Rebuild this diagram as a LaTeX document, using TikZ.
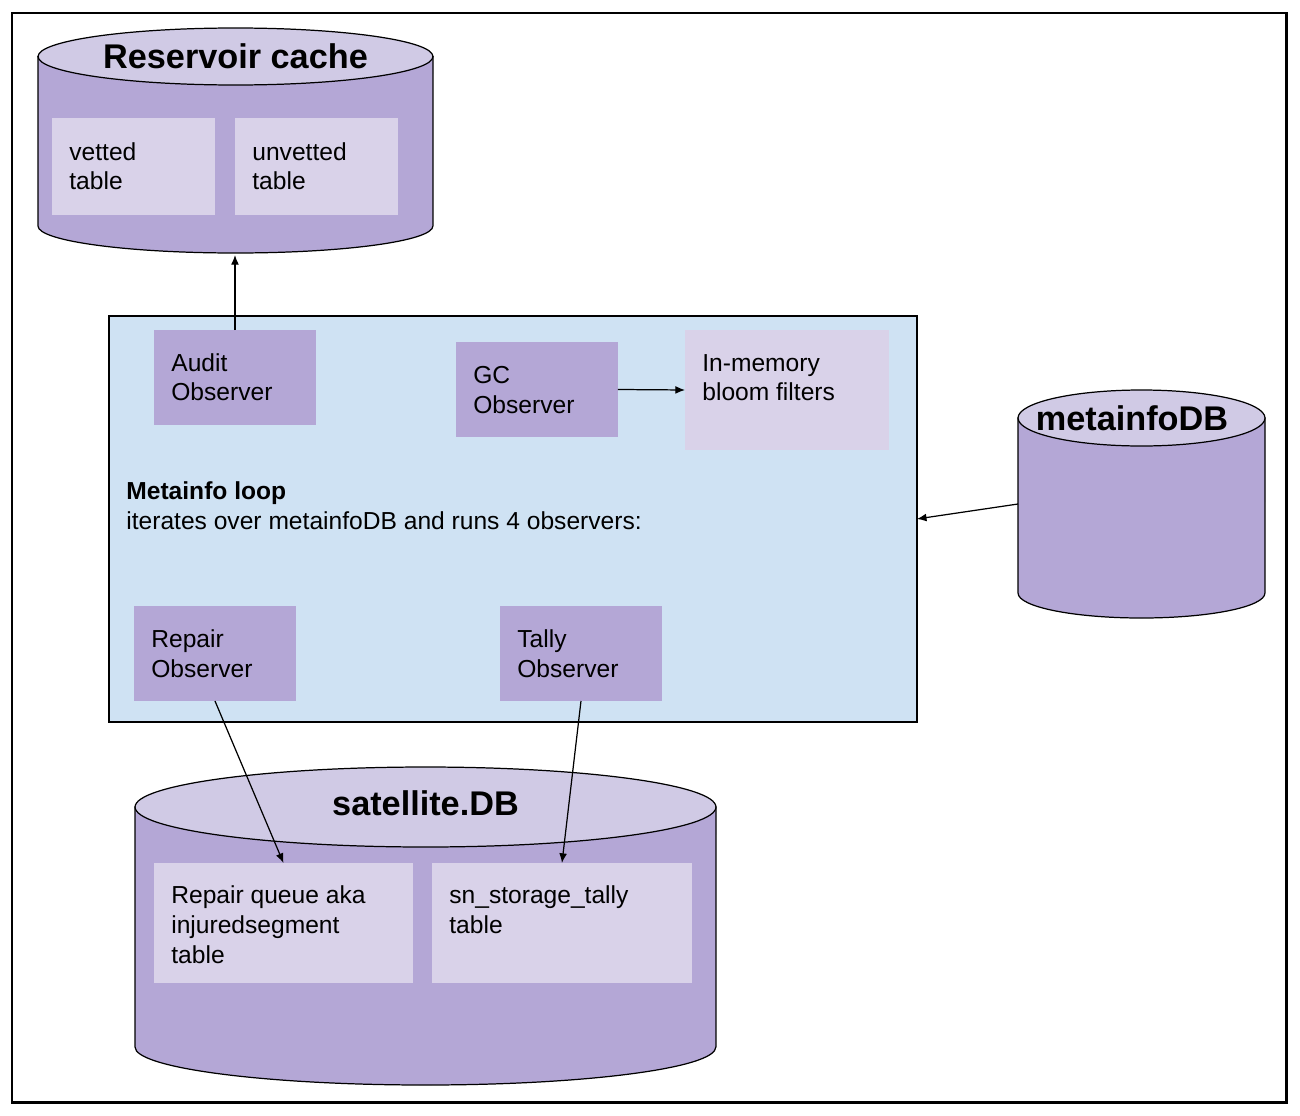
\documentclass[tikz,border=0pt]{standalone}
\usepackage{fontspec}
\setmainfont{Liberation Sans}
\usepackage{xcolor}
\usepackage{tikz}
\usetikzlibrary{arrows.meta}
\definecolor{ObsPurple}{HTML}{B4A7D6}
\definecolor{TablePurple}{HTML}{D9D2E9}
\definecolor{CanTop}{HTML}{D0CAE5}
\definecolor{LoopBlue}{HTML}{CFE2F3}

\tikzset{
	plainbox/.style={rectangle, anchor=north west, inner sep=0pt, outer sep=0pt},
	obsbox/.style={plainbox, fill=ObsPurple, minimum width=3.24cm, minimum height=1.9cm},
	tablebox/.style={plainbox, fill=TablePurple},
	lbl/.style={anchor=base west, inner sep=0pt, font=\fontsize{14}{17}\selectfont},
	dbtitle/.style={anchor=base, inner sep=0pt, font=\bfseries\fontsize{19.5}{23}\selectfont},
	canbody/.style={draw=black, line width=0.7pt, fill=ObsPurple},
	cantop/.style={draw=black, line width=0.7pt, fill=CanTop},
	flow/.style={-{Latex[length=5.5pt,width=4.5pt]}, line width=0.7pt},
}

\begin{document}
\begin{tikzpicture}[x=0.02cm, y=-0.02cm]
				\useasboundingbox (0,0) rectangle (1300,1115);
				\fill[white] (0,0) rectangle (1300,1115);
				\draw[line width=1.7pt] (12,13) rectangle (1286,1102);

				% reservoir cache
				\draw[canbody] (38,56.5) -- (38,226) arc[start angle=180, end angle=360, x radius=3.95cm, y radius=0.54cm] -- (433,56.5) -- cycle;
				\draw[cantop] (235.5,56.5) ellipse [x radius=3.95cm, y radius=0.57cm];
				\node[dbtitle] (restitle) at (235.5,69) {Reservoir cache};
				\coordinate (resbot) at (235.5,255);
				\node[tablebox, minimum width=3.26cm, minimum height=1.94cm] (vetted) at (52,118) {};
				\node[tablebox, minimum width=3.26cm, minimum height=1.94cm] (unvetted) at (235,118) {};

				% metainfo loop
				\node[plainbox, fill=LoopBlue, draw=black, line width=0.9pt, minimum width=16.16cm, minimum height=8.12cm] (loop) at (109,316) {};
				\foreach \name/\x/\y in {audit/154/330, gc/456/342, repair/134/606, tally/500/606} {
					\node[obsbox] (\name) at (\x,\y) {};
				}
				\node[tablebox, minimum width=4.08cm, minimum height=2.4cm] (bloom) at (685,330) {};

				% metainfoDB
				\draw[canbody] (1018,418) -- (1018,593) arc[start angle=180, end angle=360, x radius=2.47cm, y radius=0.5cm] -- (1265,418) -- cycle;
				\draw[cantop] (1141.5,418) ellipse [x radius=2.47cm, y radius=0.56cm];
				\node[dbtitle] (metatitle) at (1132,430) {metainfoDB};
				\coordinate (metawest) at (1018,504);

				% satellite.DB
				\draw[canbody] (135,807) -- (135,1047) arc[start angle=180, end angle=360, x radius=5.81cm, y radius=0.76cm] -- (716,807) -- cycle;
				\draw[cantop] (425.5,807) ellipse [x radius=5.81cm, y radius=0.8cm];
				\node[dbtitle] (sattitle) at (425.5,815) {satellite.DB};
				\node[tablebox, minimum width=5.18cm, minimum height=2.4cm] (queue) at (154,863) {};
				\node[tablebox, minimum width=5.2cm, minimum height=2.4cm] (storage) at (432,863) {};

				% texts
				\foreach \x/\y/\txt [count=\i] in {
					69/160/vetted, 69/189/table, 252/160/unvetted, 252/189/table,
					171/371/Audit, 171/400/Observer, 473/383/GC, 473/413/Observer,
					702/371/In-memory, 702/400/bloom filters,
					126/529/iterates over metainfoDB and runs 4 observers:,
					151/647/Repair, 151/677/Observer, 517/647/Tally, 517/677/Observer,
					171/903/Repair queue aka, 171/933/injuredsegment, 171/963/table,
					449/903/sn\_storage\_tally, 449/933/table} {
					\node[lbl] (txt\i) at (\x,\y) {\txt};
				}
				\node[lbl, font=\bfseries\fontsize{14}{17}\selectfont] (looptitle) at (126,499) {Metainfo loop};

				% arrows
				\draw[flow] (audit.north) -- (audit.north |- resbot);
				\draw[flow] (gc.east) -- (bloom.west);
				\draw[flow] (metawest) -- (loop.east);
				\draw[flow] (repair.south) -- (queue.north);
				\draw[flow] (tally.south) -- (storage.north);
			\end{tikzpicture}
\end{document}
